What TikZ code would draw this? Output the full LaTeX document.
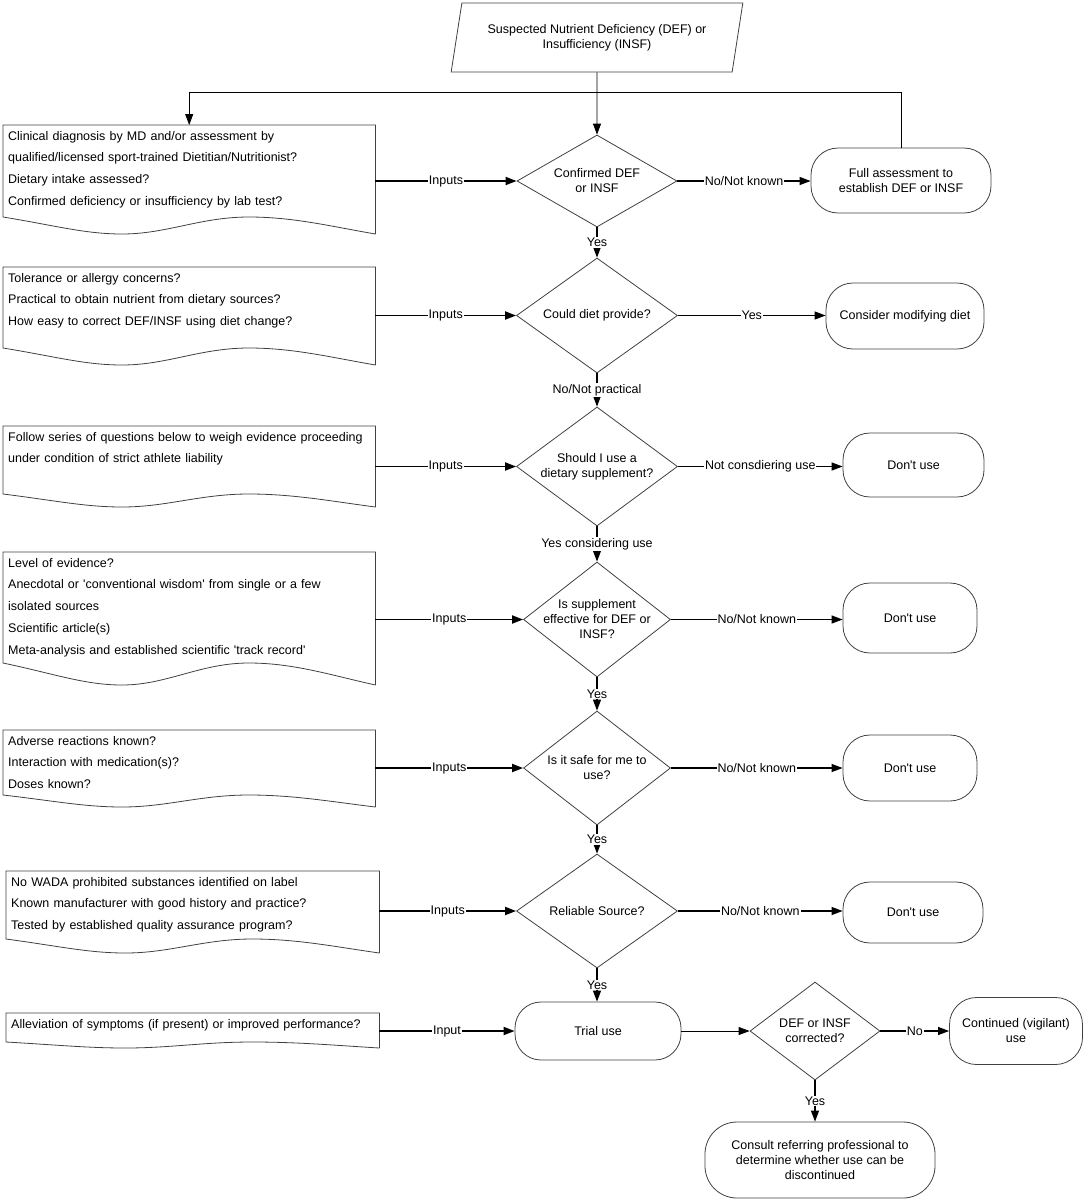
\documentclass[tikz,border=0pt]{standalone}
\usepackage{fontspec}
\setmainfont{Liberation Sans}
\usetikzlibrary{arrows.meta, shapes.geometric, calc}

% document outline: node, bottom y, wave height
\newcommand{\docframe}[3]{%
  \draw[outline] let \p1=(#1.north west), \p2=(#1.north east), \p3=(0,#2), \n1={\x2-\x1} in
    (\x2,\y3) -- (\p2) -- (\p1) -- (\x1,\y3+#3pt)
    .. controls (\x1+0.14*\n1,\y3+0.5*#3pt) and (\x1+0.22*\n1,\y3) .. (\x1+0.32*\n1,\y3)
    .. controls (\x1+0.44*\n1,\y3) and (\x1+0.53*\n1,\y3+#3pt) .. (\x1+0.66*\n1,\y3+#3pt)
    .. controls (\x1+0.78*\n1,\y3+#3pt) and (\x1+0.88*\n1,\y3+0.45*#3pt) .. (\x2,\y3);}

\begin{document}
\begin{tikzpicture}[x=1pt, y=-1pt,
		every node/.style={font=\fontsize{12.5}{15}\selectfont},
		outline/.style={draw=black!75, line width=0.8pt},
		docbox/.style={anchor=north west, align=left, text width=362pt, inner xsep=5pt, inner ysep=6pt, font=\fontsize{12.5}{21.7}\selectfont},
		decision/.style={diamond, outline, inner sep=0pt},
		terminal/.style={rectangle, rounded corners=27pt, outline, align=center},
		arr/.style={-{Triangle[length=11pt,width=8pt]}, line width=1.2pt},
		inarr/.style={arr, line width=1.8pt},
		thinarr/.style={arr, line width=0.8pt},
		lbl/.style={fill=white, inner sep=1pt}
	]
	\useasboundingbox (0,0) rectangle (1087,1200);

	\node[trapezium, trapezium left angle=75, trapezium right angle=105, trapezium stretches=true,
		minimum width=292pt, minimum height=69pt, outline, align=center] (start) at (597,37.5)
		{Suspected Nutrient Deficiency (DEF) or\\Insufficiency (INSF)};

	\node[docbox] (doc1) at (3,125) {Clinical diagnosis by MD and/or assessment by\\qualified/licensed sport-trained Dietitian/Nutritionist?\\Dietary intake assessed?\\Confirmed deficiency or insufficiency by lab test?};
	\docframe{doc1}{234}{17}
	\node[docbox] (doc2) at (3,267) {Tolerance or allergy concerns?\\Practical to obtain nutrient from dietary sources?\\How easy to correct DEF/INSF using diet change?};
	\docframe{doc2}{365}{17}
	\node[docbox] (doc3) at (3,426) {Follow series of questions below to weigh evidence proceeding\\under condition of strict athlete liability};
	\docframe{doc3}{507}{13}
	\node[docbox] (doc4) at (3,552) {Level of evidence?\\Anecdotal or \textquotesingle conventional wisdom\textquotesingle{} from single or a few\\isolated sources\\Scientific article(s)\\Meta-analysis and established scientific \textquotesingle track record\textquotesingle};
	\docframe{doc4}{685}{22}
	\node[docbox] (doc5) at (3,730) {Adverse reactions known?\\Interaction with medication(s)?\\Doses known?};
	\docframe{doc5}{807}{12}
	\node[docbox, text width=363pt] (doc6) at (6,871) {No WADA prohibited substances identified on label\\Known manufacturer with good history and practice?\\Tested by established quality assurance program?};
	\docframe{doc6}{953}{14}
	\node[docbox, text width=363pt] (doc7) at (6,1013) {Alleviation of symptoms (if present) or improved performance?};
	\docframe{doc7}{1048}{6}

	\node[decision, minimum width=160pt, minimum height=92pt, label={[align=center]center:{Confirmed DEF\\or INSF}}] (d1) at (597,181) {};
	\node[decision, minimum width=161pt, minimum height=115pt, label={center:Could diet provide?}] (d2) at (597,315.5) {};
	\node[decision, minimum width=161pt, minimum height=119pt, label={[align=center]center:{Should I use a\\dietary supplement?}}] (d3) at (597,466.5) {};
	\node[decision, minimum width=147pt, minimum height=115pt, label={[align=center]center:{Is supplement\\effective for DEF or\\INSF?}}] (d4) at (597,619.5) {};
	\node[decision, minimum width=147pt, minimum height=114pt, label={[align=center]center:{Is it safe for me to\\use?}}] (d5) at (597,768) {};
	\node[decision, minimum width=161pt, minimum height=114pt, label={center:Reliable Source?}] (d6) at (597,911) {};
	\node[decision, minimum width=130pt, minimum height=98pt, label={[align=center]center:{DEF or INSF\\corrected?}}] (d7) at (815,1031) {};

	\node[terminal, minimum width=180pt, minimum height=65pt] (full) at (901,180.5) {Full assessment to\\establish DEF or INSF};
	\node[terminal, minimum width=158pt, minimum height=66pt] (modify) at (905,316) {Consider modifying diet};
	\node[terminal, minimum width=141pt, minimum height=64pt] (dont1) at (913.5,465) {Don\textquotesingle t use};
	\node[terminal, minimum width=134pt, minimum height=70pt] (dont2) at (910,618) {Don\textquotesingle t use};
	\node[terminal, minimum width=134pt, minimum height=66pt] (dont3) at (910,768) {Don\textquotesingle t use};
	\node[terminal, minimum width=140pt, minimum height=61pt] (dont4) at (913,912.5) {Don\textquotesingle t use};
	\node[terminal, minimum width=166pt, minimum height=58pt, rounded corners=26pt] (trial) at (598,1031) {Trial use};
	\node[terminal, minimum width=133pt, minimum height=67pt] (cont) at (1016,1031) {Continued (vigilant)\\use};
	\node[terminal, minimum width=230pt, minimum height=76pt, rounded corners=32pt] (consult) at (820,1160) {Consult referring professional to\\determine whether use can be\\discontinued};

	\draw[thinarr] (start.south) -- (d1.north);
	\draw[thinarr] (full.north) -- ++(0,-55) -| (doc1.north);

	\draw[inarr] (doc1.east |- d1) -- node[lbl] {Inputs} (d1.west);
	\draw[inarr] (doc2.east |- d2) -- node[lbl] {Inputs} (d2.west);
	\draw[inarr] (doc3.east |- d3) -- node[lbl] {Inputs} (d3.west);
	\draw[inarr] (doc4.east |- d4) -- node[lbl] {Inputs} (d4.west);
	\draw[inarr] (doc5.east |- d5) -- node[lbl] {Inputs} (d5.west);
	\draw[inarr] (doc6.east |- d6) -- node[lbl] {Inputs} (d6.west);
	\draw[inarr] (doc7.east |- trial) -- node[lbl] {Input} (trial.west);

	\draw[arr] (d1.east) -- node[lbl] {No/Not known} (d1.east -| full.west);
	\draw[arr] (d2.east) -- node[lbl] {Yes} (d2.east -| modify.west);
	\draw[arr] (d3.east) -- node[lbl] {Not consdiering use} (d3.east -| dont1.west);
	\draw[arr] (d4.east) -- node[lbl] {No/Not known} (d4.east -| dont2.west);
	\draw[arr] (d5.east) -- node[lbl] {No/Not known} (d5.east -| dont3.west);
	\draw[arr] (d6.east) -- node[lbl] {No/Not known} (d6.east -| dont4.west);

	\draw[arr] (d1.south) -- node[lbl] {Yes} (d2.north);
	\draw[arr] (d2.south) -- node[lbl] {No/Not practical} (d3.north);
	\draw[arr] (d3.south) -- node[lbl] {Yes considering use} (d4.north);
	\draw[arr] (d4.south) -- node[lbl] {Yes} (d5.north);
	\draw[arr] (d5.south) -- node[lbl] {Yes} (d6.north);
	\draw[arr] (d6.south) -- node[lbl] {Yes} (d6.south |- trial.north);

	\draw[thinarr] (trial.east) -- (d7.west);
	\draw[arr] (d7.east) -- node[lbl] {No} (d7.east -| cont.west);
	\draw[arr] (d7.south) -- node[lbl] {Yes} (d7.south |- consult.north);
\end{tikzpicture}
\end{document}
